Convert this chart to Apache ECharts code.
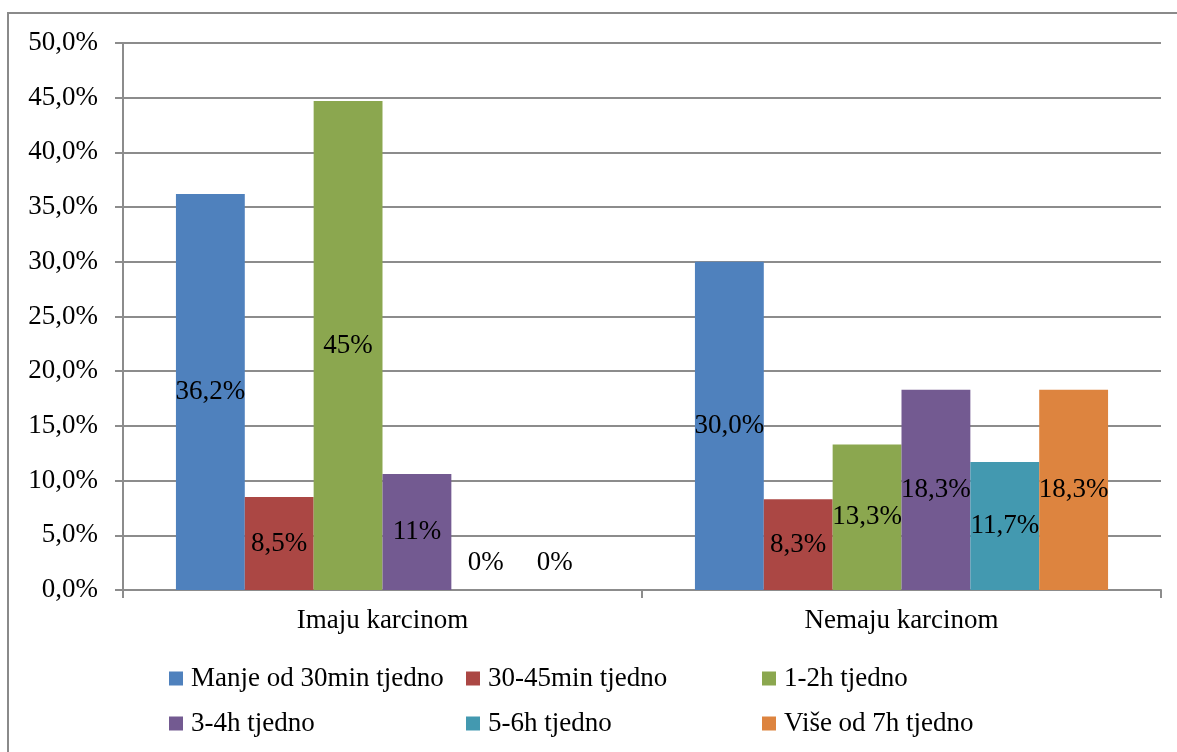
<!DOCTYPE html>
<html>
<head>
<meta charset="utf-8">
<script src="https://cdn.jsdelivr.net/npm/echarts@6/dist/echarts.min.js"></script>
<style>
  html, body { margin: 0; padding: 0; background: #fff; }
  #chart { width: 1177px; height: 752px; }
</style>
</head>
<body>
<div id="chart"></div>
<script>
// kategorije i serije
const categories = ["Imaju karcinom", "Nemaju karcinom"];
const seriesNames = [
  "Manje od 30min tjedno",
  "30-45min tjedno",
  "1-2h tjedno",
  "3-4h tjedno",
  "5-6h tjedno",
  "Više od 7h tjedno"
];
// vrijednosti po seriji: [Imaju, Nemaju]
const manje30 = [36.2, 30.0];
const min3045 = [8.5, 8.3];
const h12 = [44.7, 13.3];
const h34 = [10.6, 18.3];
const h56 = [0, 11.7];
const vise7 = [0, 18.3];
// oznake kako su upisane na grafu
const labels0 = ["36,2%", "30,0%"];
const labels1 = ["8,5%", "8,3%"];
const labels2 = ["45%", "13,3%"];
const labels3 = ["11%", "18,3%"];
const labels4 = ["0%", "11,7%"];
const labels5 = ["0%", "18,3%"];
const yTicks = ["0,0%", "5,0%", "10,0%", "15,0%", "20,0%", "25,0%", "30,0%", "35,0%", "40,0%", "45,0%", "50,0%"];

const values = [manje30, min3045, h12, h34, h56, vise7];
const labels = [labels0, labels1, labels2, labels3, labels4, labels5];
const colors = ["#4F81BD", "#AB4744", "#8BA74F", "#735A91", "#4399B0", "#DD843F"];

const FONT = "Liberation Serif";
const FS = 27;

let chart = echarts.init(document.getElementById("chart"));

const series = values.map((vals, i) => ({
  name: seriesNames[i],
  type: "bar",
  barGap: "0%",
  barCategoryGap: "20.4%",
  itemStyle: { color: colors[i] },
  data: vals.map((v, j) => {
    let item = {
      value: v,
      label: {
        show: true,
        position: "inside",
        formatter: labels[i][j],
        color: "#000",
        fontFamily: FONT,
        fontSize: FS
      }
    };
    if (v === 0) {
      item.label.position = "top";
      item.label.distance = 14;
    }
    return item;
  })
}));

// legenda u tri stupca
const legendCols = [
  { left: 169, names: [seriesNames[0], seriesNames[3]] },
  { left: 466, names: [seriesNames[1], seriesNames[4]] },
  { left: 762, names: [seriesNames[2], seriesNames[5]] }
];

chart.setOption({
  animation: false,
  color: colors,
  textStyle: { fontFamily: FONT },
  graphic: [
    {
      type: "rect",
      shape: { x: 8, y: 13, width: 1300, height: 900 },
      style: { fill: "none", stroke: "#8a8a8a", lineWidth: 2 },
      silent: true
    }
  ],
  legend: legendCols.map(c => ({
    orient: "vertical",
    left: c.left,
    top: 665,
    padding: 0,
    itemWidth: 14,
    itemHeight: 14,
    itemGap: 18,
    icon: "rect",
    data: c.names,
    textStyle: { fontFamily: FONT, fontSize: FS, lineHeight: 27, color: "#000", padding: [0, 0, 0, 3] }
  })),
  grid: {
    left: 123,
    right: 16,
    top: 43,
    bottom: 162
  },
  xAxis: {
    type: "category",
    data: categories,
    axisLine: { lineStyle: { color: "#8c8c8c", width: 2 } },
    axisTick: { show: true, length: 8, lineStyle: { color: "#8c8c8c", width: 2 } },
    axisLabel: { color: "#000", fontFamily: FONT, fontSize: FS, margin: 17 }
  },
  yAxis: {
    type: "value",
    min: 0,
    max: 50,
    interval: 5,
    axisLine: { show: true, lineStyle: { color: "#8c8c8c", width: 2 } },
    axisTick: { show: true, length: 8, lineStyle: { color: "#8c8c8c", width: 2 } },
    splitLine: { lineStyle: { color: "#8c8c8c", width: 2 } },
    axisLabel: {
      color: "#000",
      fontFamily: FONT,
      fontSize: FS,
      margin: 25,
      formatter: v => yTicks[Math.round(v / 5)]
    }
  },
  series: series
});
</script>
</body>
</html>
